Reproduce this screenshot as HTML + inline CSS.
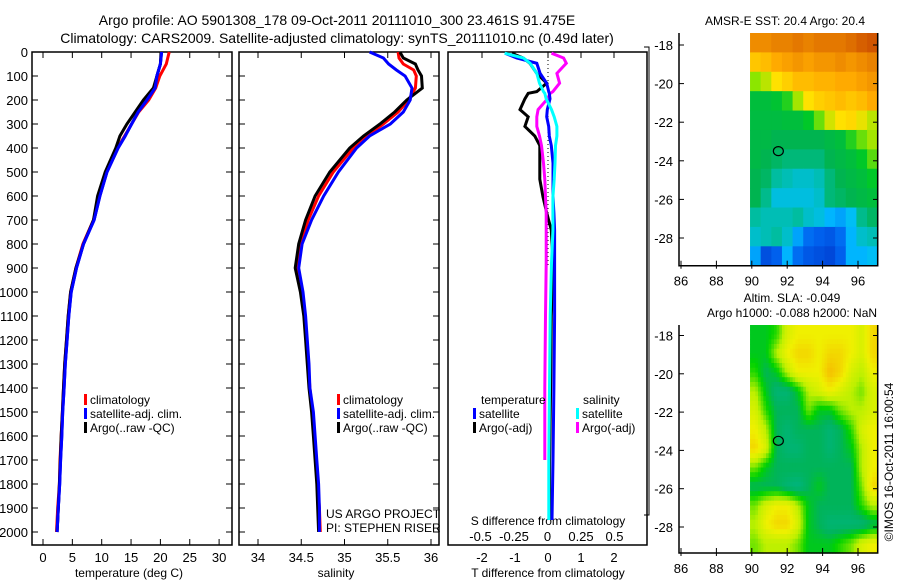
<!DOCTYPE html>
<html><head><meta charset="utf-8"><style>
body{margin:0;background:#fff;}
svg{display:block;font-family:"Liberation Sans",sans-serif;}
text{fill:#000;}
</style></head><body>
<svg id="c" width="900" height="580" viewBox="0 0 900 580">
<text x="337" y="25" font-size="14" text-anchor="middle">Argo profile: AO 5901308_178 09-Oct-2011 20111010_300 23.461S 91.475E</text>
<text x="337" y="43" font-size="14" text-anchor="middle">Climatology: CARS2009. Satellite-adjusted climatology: synTS_20111010.nc (0.49d later)</text>
<text x="785" y="25" font-size="12" text-anchor="middle">AMSR-E SST: 20.4 Argo: 20.4</text>
<text x="792" y="302" font-size="12" text-anchor="middle">Altim. SLA: -0.049</text>
<text x="792" y="317" font-size="12" text-anchor="middle">Argo h1000: -0.088 h2000: NaN</text>
<text transform="translate(893,462) rotate(-90)" font-size="12" text-anchor="middle">©IMOS 16-Oct-2011 16:00:54</text>
</svg>
<script>
// ---- data ----
const depthTicks=[0,100,200,300,400,500,600,700,800,900,1000,1100,1200,1300,1400,1500,1600,1700,1800,1900,2000];
const tempTicks=[0,5,10,15,20,25,30];
const salTicks=[34,34.5,35,35.5,36];
const tdTicks=[-2,-1,0,1,2];
const sdTicks=[-0.5,-0.25,0,0.25,0.5];
const lonTicks=[86,88,90,92,94,96];
const latTicks=[-18,-20,-22,-24,-26,-28];

const tDepth=[0,50,100,150,200,250,300,350,400,500,600,700,800,900,1000,1100,1200,1300,1400,1500,1600,1700,1800,1900,2000];
const tempClim=[21.5,21.0,19.9,19.2,18.0,16.3,15.1,13.9,12.7,10.8,9.6,8.6,6.8,5.6,4.7,4.3,4.0,3.7,3.5,3.3,3.1,2.9,2.8,2.5,2.3];
const tempSat=[20.2,20.0,19.4,19.1,17.7,16.2,15.1,14.0,12.8,10.9,9.7,8.7,6.9,5.7,4.8,4.4,4.1,3.8,3.6,3.35,3.2,3.0,2.85,2.6,2.4];
const tempArgo=[20.1,20.0,19.4,18.8,17.1,15.7,14.3,13.1,12.4,10.6,9.3,8.6,6.9,5.6,4.7,4.3,4.0,3.7,3.5,3.3,3.1,2.95,2.8,2.6,2.4];

const sDepth=[0,25,50,75,100,150,200,250,300,350,400,500,600,700,800,900,1000,1100,1200,1300,1400,1500,1600,1700,1800,1900,2000];
const salClim=[35.62,35.63,35.68,35.80,35.83,35.82,35.74,35.62,35.45,35.26,35.10,34.87,34.70,34.58,34.49,34.45,34.50,34.54,34.56,34.58,34.60,34.63,34.65,34.67,34.69,34.71,34.72];
const salSat=[35.29,35.45,35.51,35.60,35.70,35.78,35.76,35.68,35.53,35.29,35.14,34.93,34.76,34.62,34.51,34.47,34.52,34.55,34.57,34.59,34.60,34.64,34.66,34.68,34.70,34.71,34.71];
const salArgo=[35.64,35.68,35.82,35.85,35.89,35.90,35.72,35.58,35.41,35.22,35.06,34.83,34.66,34.55,34.47,34.43,34.49,34.53,34.55,34.57,34.59,34.62,34.64,34.66,34.68,34.69,34.70];

const dDepth=[5,25,47,89,130,165,172,195,240,270,310,350,390,463,530,604,670,742,880,1100,1400,1700,1950];
const tdSat=[-1.3,-0.95,-0.34,-0.24,-0.04,0.02,0.04,0.06,-0.02,-0.04,0.02,0.04,0.1,0.15,0.15,0.15,0.18,0.2,0.2,0.2,0.18,0.15,0.12];
const tdArgo=[-1.1,-0.75,-0.55,-0.34,-0.04,-0.34,-0.6,-0.7,-0.85,-0.6,-0.7,-0.4,-0.25,-0.25,-0.25,-0.15,-0.04,0.1,0.15,0.1,0.08,0.05,0.05];
const sdSat=[-0.32,-0.18,-0.13,-0.08,-0.06,-0.03,-0.02,-0.01,0.03,0.05,0.07,0.07,0.06,0.056,0.05,0.04,0.04,0.04,0.03,0.02,0.015,0.01,0.01];
const sdArgo=[0.03,0.12,0.14,0.07,0.09,0.04,0.02,0.0,-0.07,-0.08,-0.08,-0.06,-0.045,-0.03,-0.02,-0.015,-0.01,-0.01,-0.01,-0.015,-0.02,-0.02,-0.01];

const sstGrid=[
[0.86,0.86,0.88,0.88,0.9,0.88,0.9,0.9,0.9,0.92,0.95,0.97],
[0.74,0.76,0.8,0.82,0.84,0.82,0.84,0.84,0.86,0.84,0.86,0.88],
[0.58,0.62,0.68,0.72,0.76,0.76,0.78,0.78,0.8,0.8,0.82,0.84],
[0.46,0.46,0.48,0.52,0.6,0.68,0.72,0.74,0.76,0.74,0.76,0.8],
[0.45,0.45,0.45,0.46,0.46,0.5,0.56,0.64,0.68,0.7,0.66,0.62],
[0.44,0.44,0.42,0.42,0.42,0.42,0.42,0.44,0.46,0.52,0.56,0.6],
[0.44,0.42,0.4,0.38,0.38,0.38,0.38,0.42,0.44,0.46,0.5,0.55],
[0.42,0.4,0.34,0.32,0.3,0.3,0.32,0.38,0.42,0.44,0.46,0.5],
[0.42,0.36,0.28,0.28,0.28,0.28,0.3,0.38,0.4,0.42,0.44,0.46],
[0.34,0.32,0.32,0.32,0.34,0.3,0.28,0.24,0.22,0.26,0.36,0.4],
[0.3,0.32,0.34,0.3,0.22,0.16,0.14,0.12,0.16,0.24,0.3,0.32],
[0.22,0.1,0.14,0.24,0.16,0.12,0.1,0.08,0.14,0.24,0.24,0.26]];
const slaGrid=[
[0.3,0.3,0.4,0.7,0.8,0.8,0.8,0.8,0.8,0.8,0.7,0.9],
[0.3,0.3,0.6,0.8,0.9,0.9,0.8,0.9,0.9,0.8,0.7,0.9],
[0.4,0.2,0.3,0.6,0.8,0.8,0.8,1.0,0.9,0.7,0.6,0.8],
[0.6,0.3,0.1,0.1,0.3,0.6,0.7,0.8,0.7,0.6,0.5,0.7],
[0.7,0.4,0.2,0.2,0.2,0.5,0.3,0.3,0.5,0.6,0.6,0.7],
[0.8,0.6,0.2,0.1,0.2,0.2,0.2,0.1,0.2,0.4,0.7,0.8],
[0.9,0.7,0.2,0.1,0.1,0.2,0.2,0.1,0.2,0.3,0.6,0.8],
[0.5,0.3,0.2,0.2,0.2,0.2,0.2,0.2,0.2,0.2,0.6,0.8],
[0.2,0.2,0.2,0.1,0.05,0.2,0.3,0.2,0.2,0.2,0.5,0.9],
[0.5,0.7,0.8,0.8,0.6,0.3,0.2,0.2,0.2,0.2,0.4,0.6],
[0.6,0.8,0.9,0.9,0.7,0.3,0.2,0.1,0.1,0.1,0.1,0.2],
[0.5,0.6,0.6,0.6,0.5,0.3,0.3,0.3,0.4,0.5,0.7,0.8]];
const argoLon=91.5, argoLat=-23.5;

// ---- helpers ----
const svg=document.getElementById('c');
const NS='http://www.w3.org/2000/svg';
function mk(tag,attrs){const e=document.createElementNS(NS,tag);for(const k in attrs)e.setAttribute(k,attrs[k]);svg.appendChild(e);return e;}
function txt(x,y,s,size,anchor){const t=mk('text',{x:x,y:y,'font-size':size,'text-anchor':anchor||'middle'});t.textContent=s;return t;}
const yD=d=>52+0.24*d;
const PT=52,PB=545;

function frame(l,r,name){
  const f=mk('rect',{x:l,y:PT,width:r-l,height:PB-PT,fill:'none',stroke:'#000','stroke-width':1.5});
  
  
  depthTicks.forEach(d=>{const y=yD(d);mk('line',{x1:l,x2:l+6,y1:y,y2:y,stroke:'#000'});mk('line',{x1:r-6,x2:r,y1:y,y2:y,stroke:'#000'});});
}
function line(xs,ds,xf,color,name){
  const pts=xs.map((v,i)=>xf(v).toFixed(1)+','+yD(ds[i]).toFixed(1)).join(' ');
  const p=mk('polyline',{points:pts,fill:'none',stroke:color,'stroke-width':3,'stroke-linejoin':'miter'});
  
  
}
function legend(x,y,color,label,name){
  mk('rect',{x:x,y:y-10,width:3,height:11,fill:color});
  const t=txt(x+6,y,label,12,'start');
  
  
}

// ---- panel 1 temperature ----
const xT=v=>43+5.87*v;
frame(32,232,'temperature-panel');
depthTicks.forEach(d=>{const t=txt(28,yD(d)+5,String(d),13,'end');});
tempTicks.forEach(v=>{mk('line',{x1:xT(v),x2:xT(v),y1:PB,y2:PB-6,stroke:'#000'});mk('line',{x1:xT(v),x2:xT(v),y1:PT,y2:PT+6,stroke:'#000'});const t=txt(xT(v),562,String(v),13);});
{const t=txt(129,577,'temperature (deg C)',12);}
line(tempClim,tDepth,xT,'#ff0000','temp-climatology-line');
line(tempSat,tDepth,xT,'#0000ff','temp-satellite-line');
line(tempArgo,tDepth,xT,'#000000','temp-argo-line');
line(tempSat,tDepth,xT,'#0000ff','temp-satellite-line-top');
legend(84,404,'#ff0000','climatology','temp-legend-climatology');
legend(84,418,'#0000ff','satellite-adj. clim.','temp-legend-satellite');
legend(84,432,'#000000','Argo(..raw -QC)','temp-legend-argo');

// ---- panel 2 salinity ----
const xS=v=>258+86.5*(v-34);
frame(239,439,'salinity-panel');
salTicks.forEach(v=>{mk('line',{x1:xS(v),x2:xS(v),y1:PB,y2:PB-6,stroke:'#000'});mk('line',{x1:xS(v),x2:xS(v),y1:PT,y2:PT+6,stroke:'#000'});const t=txt(xS(v),562,String(v),13);});
{const t=txt(336,577,'salinity',12);}
line(salClim,sDepth,xS,'#ff0000','sal-climatology-line');
line(salArgo,sDepth,xS,'#000000','sal-argo-line');
line(salSat,sDepth,xS,'#0000ff','sal-satellite-line');
legend(337,404,'#ff0000','climatology','sal-legend-climatology');
legend(337,418,'#0000ff','satellite-adj. clim.','sal-legend-satellite');
legend(337,432,'#000000','Argo(..raw -QC)','sal-legend-argo');
{const t=txt(326,518,'US ARGO PROJECT',12,'start');}
{const t=txt(326,532,'PI: STEPHEN RISER',12,'start');}

// ---- panel 3 differences ----
const xTD=v=>548+33*v, xSD=v=>547.5+134*v;
mk('rect',{x:448,y:PT,width:199,height:PB-PT,fill:'none',stroke:'#000','stroke-width':1.5});
tdTicks.forEach(v=>{mk('line',{x1:xTD(v),x2:xTD(v),y1:PT,y2:PT+6,stroke:'#000'});const t=txt(xTD(v),562,String(v),13);});
sdTicks.forEach(v=>{const t=txt(xSD(v),541,String(v),13);});
{const t=txt(548,525,'S difference from climatology',12);}
{const t=txt(548,577,'T difference from climatology',12);}
mk('line',{x1:xTD(0),x2:xTD(0),y1:PT,y2:yD(900),stroke:'#000','stroke-dasharray':'1,3'});
line(tdArgo,dDepth,xTD,'#000000','tdiff-argo-line');
line(sdArgo,dDepth.slice(0,22),xSD,'#ff00ff','sdiff-argo-line');
line(tdSat,dDepth,xTD,'#0000ff','tdiff-satellite-line');
line(sdSat,dDepth,xSD,'#00ffff','sdiff-satellite-line');
{const t=txt(481,404,'temperature',12,'start');}
{const t=txt(583,404,'salinity',12,'start');}
legend(473,418,'#0000ff','satellite','tdiff-legend-satellite');
legend(473,432,'#000000','Argo(-adj)','tdiff-legend-argo');
legend(576,418,'#00ffff','satellite','sdiff-legend-satellite');
legend(576,432,'#ff00ff','Argo(-adj)','sdiff-legend-argo');
mk('polyline',{points:'644,47 649,47 649,515 644,515',fill:'none',stroke:'#000'});

// ---- maps ----
const xLon=v=>681+17.7*(v-86);
const sstStops=[[0,[0,40,190]],[0.15,[0,100,240]],[0.25,[0,190,255]],[0.33,[0,190,170]],[0.42,[0,180,80]],[0.5,[0,200,40]],[0.58,[140,230,0]],[0.68,[255,225,0]],[0.8,[255,170,0]],[1,[200,70,0]]];
const slaStops=[[0,[0,180,140]],[0.2,[0,180,90]],[0.35,[0,210,0]],[0.6,[190,240,0]],[0.8,[240,240,0]],[1,[245,190,0]]];
function cmap(stops,v){for(let i=1;i<stops.length;i++){if(v<=stops[i][0]){const a=stops[i-1],b=stops[i],t=(v-a[0])/(b[0]-a[0]);return 'rgb('+a[1].map((c,k)=>Math.round(c+(b[1][k]-c)*t)).join(',')+')';}}return 'rgb('+stops[stops.length-1][1].join(',')+')';}
function sample(grid,fr,fc){
  const R=grid.length-1,C=grid[0].length-1;
  fr=Math.max(0,Math.min(R,fr));fc=Math.max(0,Math.min(C,fc));
  const r0=Math.floor(fr),c0=Math.floor(fc),r1=Math.min(R,r0+1),c1=Math.min(C,c0+1);
  const tr=fr-r0,tc=fc-c0;
  return grid[r0][c0]*(1-tr)*(1-tc)+grid[r0][c1]*(1-tr)*tc+grid[r1][c0]*tr*(1-tc)+grid[r1][c1]*tr*tc;
}
function map(grid,stops,top,bottom,y18,ppd,name,sub){
  const yLat=v=>y18+(-18-v)*ppd;
  const x0=xLon(89.9),x1=877.7,rows=grid.length,cols=grid[0].length;
  const nr=rows*sub,nc=cols*sub;
  const cw=(x1-x0)/nc,ch=(bottom-top)/nr;
  for(let r=0;r<nr;r++)for(let c=0;c<nc;c++){
    const v=sub===1?grid[r][c]:sample(grid,(r+0.5)/sub-0.5,(c+0.5)/sub-0.5);
    const cell=mk('rect',{x:(x0+c*cw).toFixed(2),y:(top+r*ch).toFixed(2),width:(cw+0.6).toFixed(2),height:(ch+0.6).toFixed(2),fill:cmap(stops,v)});
    
    
  }
  mk('polyline',{points:`679,${top} 679,${bottom} 877.7,${bottom} 877.7,${top}`,fill:'none',stroke:'#000','stroke-width':1.5});
  latTicks.forEach(v=>{const y=yLat(v);mk('line',{x1:679,x2:684,y1:y,y2:y,stroke:'#000'});mk('line',{x1:873,x2:877.7,y1:y,y2:y,stroke:'#000'});const t=txt(673,y+5,String(v),13,'end');});
  lonTicks.forEach(v=>{const x=xLon(v);mk('line',{x1:x,x2:x,y1:bottom,y2:bottom-5,stroke:'#000'});mk('line',{x1:x,x2:x,y1:bottom,y2:bottom+3,stroke:'#000'});const t=txt(x,bottom+20,String(v),13);});
  const c=mk('ellipse',{cx:xLon(argoLon),cy:yLat(argoLat),rx:5,ry:4.5,fill:'none',stroke:'#000','stroke-width':1.2});
  
  
}
map(sstGrid,sstStops,33,265.7,45,19.3,'sst-map',1);
map(slaGrid,slaStops,325,553,335.5,19.15,'sla-map',4);
</script>
</body></html>
